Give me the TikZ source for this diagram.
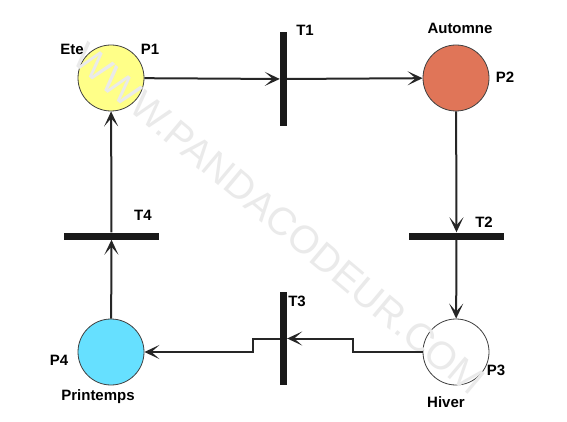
\documentclass[tikz,border=0pt]{standalone}
\usepackage{fontspec}
\setmainfont{Liberation Sans}
\usetikzlibrary{arrows.meta}
\definecolor{pyellow}{HTML}{FFFF88}
\definecolor{porange}{HTML}{E07558}
\definecolor{pcyan}{HTML}{66E0FF}
\definecolor{wm}{HTML}{EAEAEA}
\begin{document}
\begin{tikzpicture}[x=1pt,y=-1pt,
  place/.style={circle,draw=black!75,line width=0.8pt,minimum size=66pt,inner sep=0pt},
  vbar/.style={rectangle,fill=black!90,minimum width=7pt,minimum height=94pt,inner sep=0pt},
  hbar/.style={rectangle,fill=black!90,minimum width=95pt,minimum height=7pt,inner sep=0pt},
  lbl/.style={font=\fontsize{15}{17}\selectfont\bfseries,inner sep=0pt},
  arr/.style={draw=black!85,line width=2pt,-{Stealth[length=15pt,width=14pt,inset=8pt]}},
  ln/.style={draw=black!85,line width=2pt}]
\useasboundingbox (0,0) rectangle (567,422);
\fill[white] (0,0) rectangle (567,422);
% places
\node[place,fill=pyellow] (P1) at (111,78) {};
\node[place,fill=porange] (P2) at (456,78) {};
\node[place,fill=white] (P3) at (456,352) {};
\node[place,fill=pcyan] (P4) at (111,352) {};
% watermark
\node[text=wm,font=\fontsize{39}{41}\selectfont,rotate=-40] (wmk) at (279,219) {WWW.PANDACODEUR.COM};
% transitions
\node[vbar] (T1) at (283.5,79) {};
\node[hbar] (T2) at (456.5,236) {};
\node[vbar,minimum height=93pt] (T3) at (283.5,338.5) {};
\node[hbar] (T4) at (111.5,236) {};
% labels
\node[lbl] (lEte) at (72,49) {Ete};
\node[lbl] (lP1) at (150,49) {P1};
\node[lbl] (lAut) at (460,28) {Automne};
\node[lbl] (lP2) at (505,77) {P2};
\node[lbl] (lP3) at (496,370) {P3};
\node[lbl] (lHiv) at (446,402) {Hiver};
\node[lbl] (lP4) at (59,360) {P4};
\node[lbl] (lPri) at (98,397) {Printemps};
\node[lbl] (lT1) at (305,30) {T1};
\node[lbl] (lT2) at (484,222) {T2};
\node[lbl] (lT3) at (297,301) {T3};
\node[lbl] (lT4) at (143,215) {T4};
% connectors
\draw[arr] (P1) -- (T1);
\draw[arr] (T1) -- (P2);
\draw[arr] (P2) -- (T2);
\draw[arr] (T2) -- (P3);
\coordinate (a) at (353,352);
\coordinate (b) at (353,338.5);
\draw[arr] (P3.west) -- (a) -- (b) -- (T3.east);
\coordinate (c) at (252.5,338.5);
\coordinate (d) at (252.5,352);
\draw[arr] (T3.west) -- (c) -- (d) -- (P4.east);
\draw[arr] (P4) -- (T4);
\draw[arr] (T4) -- (P1);
\end{tikzpicture}
\end{document}
